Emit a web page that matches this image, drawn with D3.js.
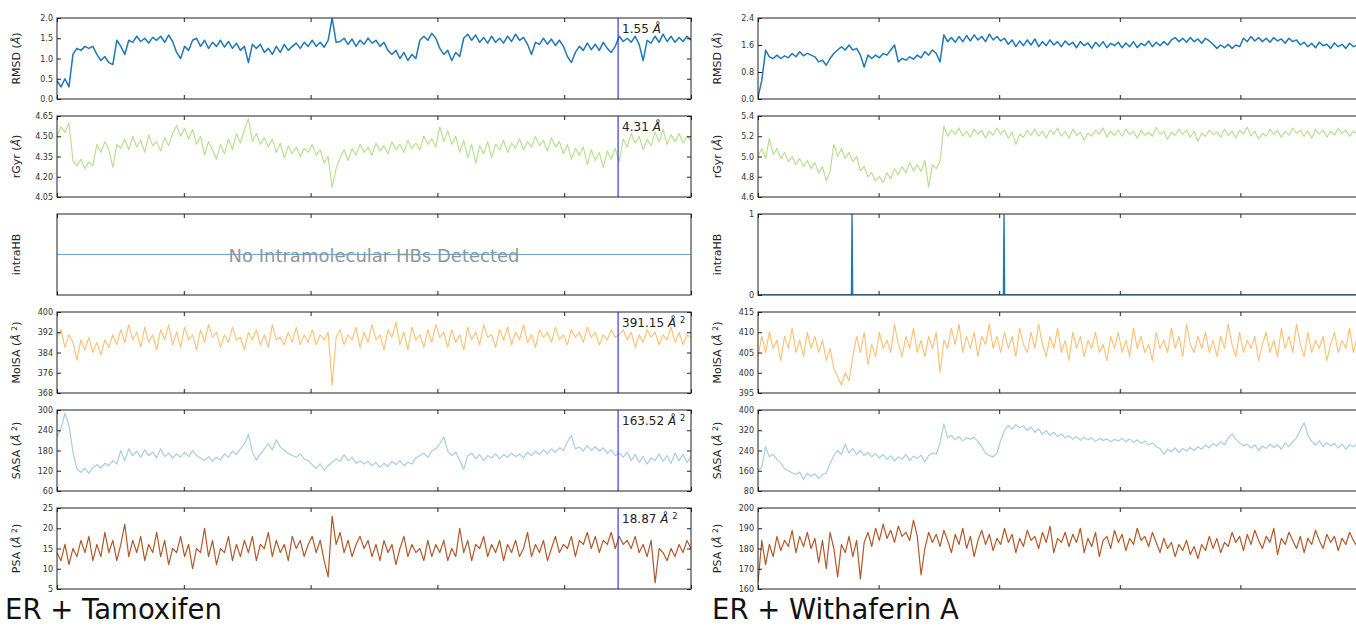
<!DOCTYPE html>
<html>
<head>
<meta charset="utf-8">
<script src="https://cdn.jsdelivr.net/npm/d3@7"></script>
<style>
  body { margin: 0; background: #fff; }
  svg { display: block; }
  text { font-family: "DejaVu Sans", sans-serif; }
</style>
</head>
<body>
<div id="chart"></div>
<script>
// trajectory length (frames) - both runs; series below are sampled evenly over it
const nFrames = 1000;
const xTicks = [0, 200, 400, 600, 800, 1000];
const markerFrame = 885;

// ---- ER + Tamoxifen ----
const tamRMSD = [
  0.45, 0.3, 0.5, 0.3, 1.1, 1.25, 1.2, 1.3, 1.25, 1.3, 1.1, 0.95, 1.05, 0.9, 0.85, 1.45,
  1.3, 1.1, 1.45, 1.4, 1.55, 1.42, 1.5, 1.38, 1.52, 1.45, 1.55, 1.4, 1.58, 1.42, 1.15, 1.0,
  1.3, 1.2, 1.45, 1.5, 1.3, 1.45, 1.25, 1.4, 1.3, 1.45, 1.28, 1.42, 1.25, 1.38, 1.2, 1.3,
  0.9, 1.35, 1.25, 1.35, 1.15, 1.25, 1.1, 1.3, 1.15, 1.35, 1.2, 1.3, 1.38, 1.25, 1.4, 1.3,
  1.45, 1.3, 1.4, 1.28, 1.45, 2.0, 1.4, 1.42, 1.5, 1.35, 1.48, 1.3, 1.45, 1.35, 1.5, 1.38,
  1.45, 1.3, 1.4, 1.2, 1.1, 1.2, 1.0, 1.15, 0.95, 1.1, 1.0, 1.45, 1.55, 1.45, 1.62, 1.5,
  1.25, 1.1, 1.2, 0.95, 1.15, 1.05, 1.5, 1.6, 1.45, 1.58, 1.4, 1.52, 1.38, 1.55, 1.4, 1.5,
  1.38, 1.55, 1.42, 1.6, 1.45, 1.52, 1.35, 1.1, 1.4, 1.35, 1.5, 1.35, 1.48, 1.32, 1.45, 1.3,
  1.05, 0.9, 1.15, 1.3, 1.2, 1.38, 1.22, 1.35, 1.2, 1.4, 1.25, 1.15, 1.3, 1.55, 1.42, 1.5,
  1.4, 1.55, 1.35, 0.95, 1.45, 1.38, 1.55, 1.4, 1.6, 1.42, 1.55, 1.4, 1.52, 1.42, 1.55, 1.45];
const tamRGyr = [
  4.50, 4.57, 4.53, 4.60, 4.32, 4.28, 4.33, 4.26, 4.31, 4.28, 4.44, 4.38, 4.46, 4.40, 4.27, 4.44,
  4.41, 4.48, 4.40, 4.50, 4.42, 4.47, 4.38, 4.51, 4.43, 4.46, 4.39, 4.49, 4.43, 4.52, 4.58, 4.50,
  4.56, 4.48, 4.55, 4.44, 4.50, 4.36, 4.46, 4.40, 4.33, 4.44, 4.37, 4.48, 4.40, 4.52, 4.45, 4.55,
  4.63, 4.46, 4.52, 4.44, 4.49, 4.42, 4.48, 4.38, 4.45, 4.34, 4.43, 4.37, 4.42, 4.35, 4.41, 4.38,
  4.44, 4.36, 4.40, 4.30, 4.35, 4.12, 4.26, 4.34, 4.40, 4.32, 4.41, 4.36, 4.44, 4.38, 4.42, 4.36,
  4.45, 4.39, 4.43, 4.37, 4.46, 4.40, 4.44, 4.38, 4.47, 4.41, 4.45, 4.40, 4.50, 4.44, 4.48, 4.42,
  4.57, 4.46, 4.54, 4.44, 4.50, 4.38, 4.47, 4.34, 4.44, 4.30, 4.43, 4.37, 4.46, 4.34, 4.44, 4.40,
  4.47, 4.38, 4.45, 4.41, 4.48, 4.40, 4.46, 4.42, 4.50, 4.43, 4.47, 4.39, 4.49, 4.42, 4.46, 4.37,
  4.44, 4.33, 4.41, 4.36, 4.42, 4.29, 4.40, 4.32, 4.38, 4.27, 4.39, 4.33, 4.41, 4.31, 4.48, 4.42,
  4.52, 4.45, 4.50, 4.40, 4.48, 4.43, 4.53, 4.46, 4.55, 4.44, 4.51, 4.46, 4.52, 4.45, 4.50, 4.47];
const tamHBFrames = [0, 1000];
const tamHB = [0, 0];
const tamMolSA = [
  390, 393, 386, 391, 388, 381, 389, 385, 390, 384, 388, 383, 389, 386, 391, 387,
  393, 388, 395, 389, 392, 386, 394, 388, 391, 385, 393, 389, 395, 387, 392, 386,
  394, 389, 391, 385, 393, 388, 395, 390, 392, 386, 391, 388, 394, 389, 390, 385,
  392, 389, 393, 387, 391, 386, 395, 389, 390, 387, 392, 388, 394, 387, 391, 388,
  393, 387, 391, 389, 392, 371, 390, 393, 387, 391, 389, 394, 386, 392, 388, 395,
  389, 391, 385, 393, 390, 396, 387, 392, 385, 394, 389, 391, 386, 393, 388, 395,
  390, 392, 386, 393, 388, 391, 385, 394, 389, 392, 387, 395, 390, 391, 386, 393,
  389, 394, 387, 392, 389, 395, 388, 391, 386, 393, 390, 392, 388, 394, 389, 391,
  387, 393, 390, 392, 388, 394, 390, 392, 387, 391, 389, 393, 390, 391, 393, 389,
  392, 386, 391, 388, 393, 390, 392, 387, 391, 389, 394, 388, 392, 387, 391, 390];
const tamSASA = [
  220, 245, 290, 255, 175, 125, 115, 128, 112, 130, 138, 128, 142, 135, 150, 140,
  180, 150, 185, 165, 178, 160, 182, 165, 176, 158, 185, 162, 172, 158, 170, 160,
  175, 162, 180, 165, 158, 150, 162, 148, 160, 152, 170, 160, 178, 168, 185, 200,
  228, 175, 152, 170, 185, 200, 182, 212, 190, 180, 172, 165, 160, 170, 155, 150,
  138, 128, 140, 122, 135, 145, 155, 148, 168, 150, 160, 142, 150, 140, 148, 135,
  145, 130, 142, 132, 148, 138, 150, 135, 145, 140, 158, 165, 172, 160, 178, 185,
  200, 220, 178, 165, 175, 150, 125, 165, 172, 155, 168, 150, 165, 158, 170, 155,
  168, 160, 172, 162, 170, 158, 175, 165, 178, 168, 182, 170, 185, 175, 188, 180,
  205, 225, 185, 190, 178, 195, 180, 192, 178, 188, 172, 182, 165, 172, 160, 175,
  150, 168, 145, 162, 140, 158, 150, 170, 148, 165, 142, 172, 150, 168, 145, 162];
const tamPSA = [
  14, 12, 16, 11, 15, 13, 17, 14, 18, 12, 16, 13, 19, 14, 17, 12,
  16, 21, 13, 17, 14, 18, 12, 16, 14, 19, 13, 17, 11, 15, 14, 18,
  13, 16, 10, 15, 14, 20, 13, 17, 11, 15, 14, 18, 12, 16, 13, 17,
  14, 18, 12, 16, 15, 19, 13, 17, 14, 16, 12, 18, 15, 17, 13, 16,
  18, 14, 17, 12, 8, 23, 16, 19, 14, 17, 13, 16, 18, 15, 17, 13,
  16, 12, 17, 14, 16, 11, 15, 18, 13, 16, 14, 15, 12, 17, 13, 16,
  14, 17, 12, 15, 13, 20, 14, 17, 12, 16, 15, 18, 13, 16, 14, 17,
  12, 16, 14, 17, 13, 15, 19, 13, 16, 14, 17, 12, 15, 18, 14, 16,
  15, 18, 13, 17, 16, 19, 15, 18, 14, 17, 16, 19, 15, 18, 16, 17,
  15, 18, 14, 16, 13, 17, 6.5, 15, 14, 12, 15, 13, 16, 14, 17, 15];
// values printed at the selected frame
const tamMarkerValues = ["1.55", "4.31", null, "391.15", "163.52", "18.87"];

// ---- ER + Withaferin A ----
const withRMSD = [
  0.05, 0.55, 1.45, 1.25, 1.2, 1.3, 1.2, 1.28, 1.22, 1.35, 1.25, 1.4, 1.28, 1.35, 1.3, 1.25,
  1.1, 1.15, 1.0, 1.2, 1.35, 1.45, 1.55, 1.45, 1.6, 1.45, 1.5, 1.3, 0.95, 1.3, 1.2, 1.3,
  1.22, 1.35, 1.3, 1.45, 1.6, 1.1, 1.2, 1.15, 1.25, 1.18, 1.3, 1.22, 1.4, 1.3, 1.45, 1.35,
  1.1, 1.9, 1.7, 1.82, 1.68, 1.85, 1.7, 1.88, 1.72, 1.9, 1.75, 1.85, 1.7, 1.92, 1.75, 1.85,
  1.72, 1.8, 1.62, 1.75, 1.55, 1.72, 1.58, 1.75, 1.6, 1.78, 1.55, 1.7, 1.58, 1.75, 1.6, 1.7,
  1.55, 1.72, 1.6, 1.68, 1.52, 1.7, 1.58, 1.66, 1.5, 1.68, 1.56, 1.7, 1.52, 1.65, 1.58, 1.68,
  1.52, 1.66, 1.55, 1.7, 1.52, 1.65, 1.58, 1.72, 1.55, 1.68, 1.58, 1.7, 1.6, 1.75, 1.82, 1.7,
  1.8, 1.68, 1.82, 1.7, 1.78, 1.65, 1.8, 1.72, 1.62, 1.5, 1.6, 1.52, 1.62, 1.5, 1.6, 1.55,
  1.8, 1.7, 1.85, 1.72, 1.82, 1.7, 1.8, 1.68, 1.82, 1.72, 1.78, 1.65, 1.8, 1.7, 1.75, 1.6,
  1.68, 1.55, 1.65, 1.52, 1.68, 1.58, 1.62, 1.5, 1.66, 1.55, 1.62, 1.5, 1.65, 1.55, 1.6, 1.52];
const withRGyr = [
  5.0, 5.08, 4.98, 5.18, 5.02, 5.08, 4.98, 5.04, 4.95, 5.0, 4.92, 4.98, 4.9, 4.96, 4.88, 4.94,
  4.84, 4.9, 4.76, 4.85, 5.12, 5.0, 5.08, 4.98, 5.04, 4.95, 5.0, 4.86, 4.9, 4.8, 4.84, 4.76,
  4.8, 4.74, 4.84, 4.78, 4.88, 4.82, 4.9, 4.84, 4.94, 4.86, 4.92, 4.85, 4.96, 4.7, 4.92, 4.88,
  4.95, 5.3, 5.2, 5.26, 5.22, 5.28, 5.2, 5.25, 5.19, 5.27, 5.22, 5.26, 5.18, 5.25, 5.21, 5.28,
  5.22, 5.26, 5.18, 5.24, 5.12, 5.22, 5.19, 5.26, 5.21, 5.27, 5.2, 5.25, 5.18, 5.26, 5.22, 5.28,
  5.2, 5.25, 5.18, 5.27, 5.21, 5.24, 5.16, 5.23, 5.2, 5.26, 5.22, 5.28, 5.19, 5.25, 5.21, 5.26,
  5.2, 5.27, 5.22, 5.25, 5.18, 5.26, 5.21, 5.24, 5.2, 5.29, 5.22, 5.25, 5.17, 5.24, 5.21, 5.27,
  5.22, 5.26, 5.19, 5.25, 5.15, 5.23, 5.2, 5.26, 5.22, 5.24, 5.19, 5.27, 5.21, 5.25, 5.18, 5.26,
  5.22, 5.29, 5.2, 5.25, 5.17, 5.23, 5.2, 5.27, 5.22, 5.26, 5.19, 5.25, 5.21, 5.28, 5.23, 5.26,
  5.2, 5.25, 5.18, 5.27, 5.22, 5.26, 5.19, 5.25, 5.21, 5.28, 5.23, 5.26, 5.2, 5.25, 5.22, 5.27];
const withHBFrames = [0, 155, 156, 157, 407, 408, 409, 1000];
const withHB = [0, 0, 1, 0, 0, 1, 0, 0];
const withMolSA = [
  404, 409, 405, 410, 406, 408, 403, 409, 406, 411, 405, 408, 404, 410, 406, 409,
  405, 408, 403, 406, 401, 399, 397, 400, 398, 404, 409, 405, 410, 402, 407, 404,
  410, 406, 408, 405, 412, 407, 404, 409, 406, 411, 405, 408, 404, 409, 406, 410,
  400, 408, 406, 411, 407, 412, 405, 409, 406, 410, 404, 409, 407, 412, 406, 409,
  405, 410, 406, 409, 404, 411, 407, 405, 410, 406, 412, 407, 404, 409, 406, 411,
  405, 408, 403, 410, 406, 409, 404, 408, 406, 410, 405, 407, 403, 409, 406, 410,
  405, 408, 404, 411, 406, 409, 405, 407, 403, 410, 406, 408, 405, 411, 406, 409,
  404, 412, 407, 405, 409, 406, 410, 405, 408, 404, 409, 406, 412, 407, 404, 410,
  405, 408, 406, 409, 403, 407, 410, 405, 408, 404, 411, 406, 409, 405, 412, 407,
  404, 410, 405, 408, 406, 409, 403, 407, 410, 405, 408, 406, 411, 405, 409, 407];
const withSASA = [
  160, 175, 255, 215, 225, 205, 190, 168, 160, 152, 145, 155, 125, 150, 138, 148,
  130, 145, 150, 190, 220, 240, 225, 265, 230, 248, 225, 240, 220, 232, 215, 228,
  210, 225, 205, 220, 198, 215, 205, 225, 200, 218, 208, 222, 195, 220, 230, 225,
  270, 345, 290, 300, 282, 295, 278, 290, 285, 292, 275, 255, 230, 220, 215, 228,
  280, 320, 338, 325, 342, 330, 338, 320, 332, 312, 325, 305, 318, 300, 312, 295,
  305, 290, 298, 284, 295, 280, 292, 282, 290, 276, 288, 280, 286, 275, 284, 278,
  288, 275, 285, 272, 282, 268, 278, 262, 270, 255, 248, 225, 245, 235, 250, 232,
  248, 238, 252, 240, 255, 245, 262, 250, 268, 258, 275, 262, 290, 305, 285, 270,
  258, 265, 250, 262, 240, 258, 248, 265, 252, 262, 245, 270, 255, 275, 290, 320,
  350, 300, 275, 262, 278, 255, 270, 258, 268, 250, 265, 245, 262, 255, 268, 250];
const withPSA = [
  163, 184, 172, 182, 176, 186, 179, 184, 181, 189, 178, 186, 181, 188, 180, 185,
  173, 184, 170, 188, 180, 166, 182, 178, 186, 176, 184, 165, 183, 188, 181, 190,
  184, 192, 185, 189, 183, 191, 186, 188, 184, 194, 186, 167, 180, 188, 183, 187,
  181, 189, 184, 178, 187, 182, 190, 180, 186, 176, 184, 189, 182, 187, 179, 185,
  182, 190, 183, 187, 178, 185, 181, 189, 184, 186, 180, 188, 183, 191, 178, 185,
  183, 188, 181, 187, 183, 190, 178, 185, 181, 188, 176, 184, 186, 180, 189, 183,
  187, 179, 185, 182, 190, 184, 186, 181, 188, 183, 178, 185, 180, 183, 176, 182,
  179, 184, 177, 181, 175, 182, 179, 186, 180, 185, 178, 183, 181, 188, 183, 186,
  179, 187, 182, 189, 184, 180, 186, 183, 190, 177, 185, 182, 188, 184, 180, 186,
  178, 185, 182, 189, 184, 180, 187, 183, 186, 179, 185, 182, 188, 184, 181, 184];

// y tick labels
const tamTicks = [[0, 0.5, 1.0, 1.5, 2.0], [4.05, 4.20, 4.35, 4.50, 4.65], [],
  [368, 376, 384, 392, 400], [60, 120, 180, 240, 300], [5, 10, 15, 20, 25]];
const withTicks = [[0, 0.8, 1.6, 2.4], [4.6, 4.8, 5.0, 5.2, 5.4], [0, 1],
  [395, 400, 405, 410, 415], [80, 160, 240, 320, 400], [160, 170, 180, 190, 200]];

const names = ["RMSD", "rGyr", "intraHB", "MolSA", "SASA", "PSA"];
const units = ["A", "A", null, "A2", "A2", "A2"];
const colors = ["#1f78b4", "#b2df8a", "#1f78b4", "#fdbf6f", "#a6cee3", "#b15928"];
const widths = [1.5, 1.1, 1.4, 1.1, 1.2, 1.2];

const tamPanels = [
  { values: tamRMSD, domain: [0, 2], fmt: ".1f" },
  { values: tamRGyr, domain: [4.05, 4.65], fmt: ".2f" },
  { frames: tamHBFrames, hb: tamHB, domain: [-1, 1], fmt: "d", message: "No Intramolecular HBs Detected" },
  { values: tamMolSA, domain: [368, 400], fmt: "d" },
  { values: tamSASA, domain: [60, 300], fmt: "d" },
  { values: tamPSA, domain: [5, 25], fmt: "d" }
];
const withPanels = [
  { values: withRMSD, domain: [0, 2.4], fmt: ".1f" },
  { values: withRGyr, domain: [4.6, 5.4], fmt: ".1f" },
  { frames: withHBFrames, hb: withHB, domain: [0, 1], fmt: "d" },
  { values: withMolSA, domain: [395, 415], fmt: "d" },
  { values: withSASA, domain: [80, 400], fmt: "d" },
  { values: withPSA, domain: [160, 200], fmt: "d" }
];

const panelTops = [18, 116, 214, 312, 410, 508];
const panelH = 81;

const svg = d3.select("#chart").append("svg")
  .attr("width", 1356)
  .attr("height", 626);

// "Å" in italic like mathtext, "Å ²" for areas
function angstrom(t, unit) {
  t.append("tspan").attr("font-style", "italic").text("Å");
  if (unit === "A2") {
    t.append("tspan").text(" ");
    t.append("tspan").attr("font-size", "0.7em").attr("dy", "-0.45em").text("2");
    return true;
  }
  return false;
}
function unitText(t, unit) {
  if (!unit) return;
  t.append("tspan").text(" (");
  const raised = angstrom(t, unit);
  t.append("tspan").attr("dy", raised ? "0.32em" : null).text(")");
}

const sides = [
  { x0: 57, x1: 691, panels: tamPanels, ticks: tamTicks, notes: tamMarkerValues, title: "ER + Tamoxifen", tx: 5, key: "tam" },
  { x0: 758, x1: 1361, panels: withPanels, ticks: withTicks, notes: null, title: "ER + Withaferin A", tx: 712, key: "with" }
];

sides.forEach(side => {
  const xf = d3.scaleLinear().domain([0, nFrames]).range([side.x0, side.x1]);

  side.panels.forEach((p, k) => {
    const top = panelTops[k];
    const bottom = top + panelH;
    const y = d3.scaleLinear().domain(p.domain).range([bottom, top]);
    const g = svg.append("g");
    const clipId = "clip-" + side.key + k;

    svg.append("clipPath").attr("id", clipId)
      .append("rect")
        .attr("x", side.x0).attr("y", top)
        .attr("width", side.x1 - side.x0).attr("height", panelH);

    const plot = g.append("g").attr("clip-path", `url(#${clipId})`);

    if (p.values) {
      const xi = d3.scaleLinear().domain([0, p.values.length - 1]).range([side.x0, side.x1]);
      plot.append("path")
        .datum(p.values)
        .attr("fill", "none")
        .attr("stroke", colors[k])
        .attr("stroke-width", widths[k])
        .attr("stroke-linejoin", "round")
        .attr("d", d3.line().x((d, i) => xi(i)).y(d => y(d)));
    } else {
      plot.append("path")
        .datum(p.hb)
        .attr("fill", "none")
        .attr("stroke", p.message ? "#6aa8cc" : colors[k])
        .attr("stroke-width", p.message ? 1.2 : widths[k])
        .attr("d", d3.line().x((d, i) => xf(p.frames[i])).y(d => y(d)));
    }

    // the selected frame
    if (side.notes && side.notes[k]) {
      const xm = xf(markerFrame);
      g.append("line")
        .attr("x1", xm).attr("x2", xm)
        .attr("y1", top).attr("y2", bottom)
        .attr("stroke", "#3a3ad8")
        .attr("stroke-width", 1.2);
      const t = g.append("text")
        .attr("x", xm + 4)
        .attr("y", top + 15)
        .attr("font-size", 12)
        .attr("fill", "#222")
        .text(side.notes[k] + " ");
      angstrom(t, units[k]);
    }

    if (p.message) {
      g.append("text")
        .attr("x", (side.x0 + side.x1) / 2)
        .attr("y", (top + bottom) / 2 + 7)
        .attr("text-anchor", "middle")
        .attr("font-size", 18)
        .attr("fill", "#8e969c")
        .text(p.message);
    }

    // frame and inward ticks
    g.append("rect")
      .attr("x", side.x0).attr("y", top)
      .attr("width", side.x1 - side.x0).attr("height", panelH)
      .attr("fill", "none")
      .attr("stroke", "#222")
      .attr("stroke-width", 1);

    const yLeft = g.append("g")
      .attr("transform", `translate(${side.x0},0)`)
      .call(d3.axisLeft(y).tickValues(side.ticks[k]).tickSizeInner(-4).tickSizeOuter(0)
        .tickPadding(4).tickFormat(d3.format(p.fmt)));
    const yRight = g.append("g")
      .attr("transform", `translate(${side.x1},0)`)
      .call(d3.axisRight(y).tickValues(side.ticks[k]).tickSizeInner(-4).tickSizeOuter(0).tickFormat(""));
    const xBottom = g.append("g")
      .attr("transform", `translate(0,${bottom})`)
      .call(d3.axisBottom(xf).tickValues(xTicks).tickSizeInner(-4).tickSizeOuter(0).tickFormat(""));
    const xTop = g.append("g")
      .attr("transform", `translate(0,${top})`)
      .call(d3.axisTop(xf).tickValues(xTicks).tickSizeInner(-4).tickSizeOuter(0).tickFormat(""));

    [yLeft, yRight, xBottom, xTop].forEach(a => {
      a.select(".domain").remove();
      a.selectAll(".tick line").attr("stroke", "#222");
    });
    yLeft.selectAll(".tick text")
      .attr("font-size", 8)
      .attr("font-family", "DejaVu Sans, sans-serif")
      .attr("fill", "#333");

    // y label
    const lab = g.append("text")
      .attr("transform", `translate(${side.x0 - 37},${(top + bottom) / 2}) rotate(-90)`)
      .attr("text-anchor", "middle")
      .attr("font-size", 11)
      .attr("fill", "#222")
      .text(names[k]);
    unitText(lab, units[k]);
  });

  svg.append("text")
    .attr("x", side.tx)
    .attr("y", 619)
    .attr("font-family", "DejaVu Sans, sans-serif")
    .attr("font-size", 27.5)
    .attr("fill", "#111")
    .text(side.title);
});
</script>
</body>
</html>
